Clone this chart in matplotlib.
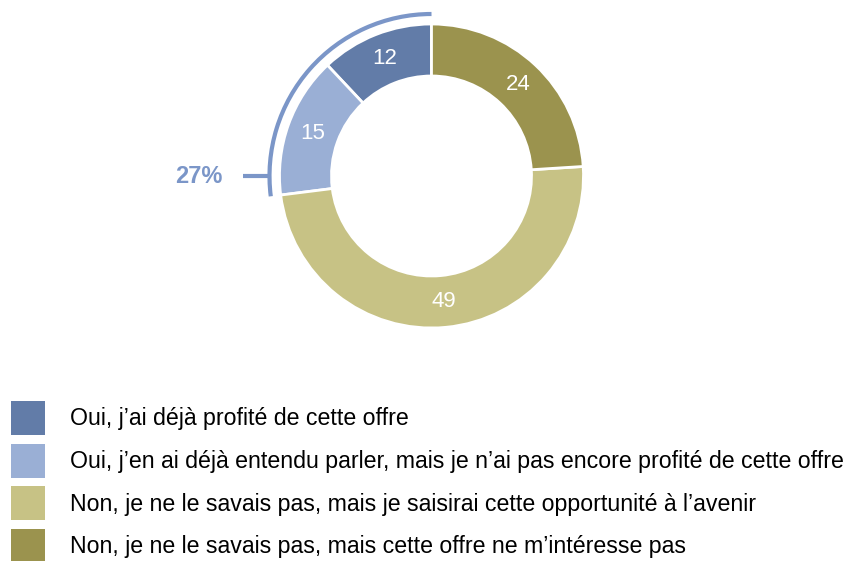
import matplotlib.pyplot as plt
from matplotlib.patches import Arc, Patch
import numpy as np

plt.rcParams['font.family'] = ['Liberation Sans', 'DejaVu Sans']

# données
categories = [
    "Oui, j\u2019ai déjà profité de cette offre",
    "Oui, j\u2019en ai déjà entendu parler, mais je n\u2019ai pas encore profité de cette offre",
    "Non, je ne le savais pas, mais je saisirai cette opportunité à l\u2019avenir",
    "Non, je ne le savais pas, mais cette offre ne m\u2019intéresse pas",
]
values = [12, 15, 49, 24]
colors = ['#627ca8', '#9aafd5', '#c7c285', '#9b934e']
bracket_label = "27%"
bracket_share = 27

W, H = 859, 561
fig = plt.figure(figsize=(W / 100, H / 100), dpi=100)
ax = fig.add_axes([0, 0, 1, 1])

cx, cy = 431.5, H - 176
r_out, r_in = 152, 100

wedges, _ = ax.pie(values, colors=colors, startangle=90, counterclock=True,
                   radius=r_out, center=(cx, cy), frame=True,
                   wedgeprops=dict(width=r_out - r_in, edgecolor='white', linewidth=2))
ax.set_xlim(0, W)
ax.set_ylim(0, H)
ax.set_aspect('equal')
ax.axis('off')

# valeurs dans les segments
r_mid = (r_out + r_in) / 2
for w, v in zip(wedges, values):
    a = np.deg2rad((w.theta1 + w.theta2) / 2)
    ax.text(cx + r_mid * np.cos(a), cy + r_mid * np.sin(a), str(v),
            ha='center', va='center', color='white', fontsize=16)

# accolade "Oui"
r_b = 162
bc = '#7b96c8'
ax.add_patch(Arc((cx, cy), 2 * r_b, 2 * r_b, theta1=90, theta2=90 + bracket_share * 3.6,
                 color=bc, lw=3))
ax.plot([cx - r_b - 27, cx - r_b], [cy, cy], color=bc, lw=3, solid_capstyle='butt')
ax.text(cx - r_b - 47, cy, bracket_label, ha='right', va='center',
        color=bc, fontsize=17, fontweight='bold')

fs = 16.7
handles = [Patch(facecolor=c, edgecolor='none') for c in colors]
ax.legend(handles, categories, loc='upper left', bbox_to_anchor=(11 / W, 1 - 401 / H),
          frameon=False, fontsize=fs, handlelength=34 / (fs * 100 / 72),
          handleheight=1.88, handletextpad=1.07, labelspacing=0.37,
          borderpad=0, borderaxespad=0)

fig.savefig('out.png', dpi=100)
